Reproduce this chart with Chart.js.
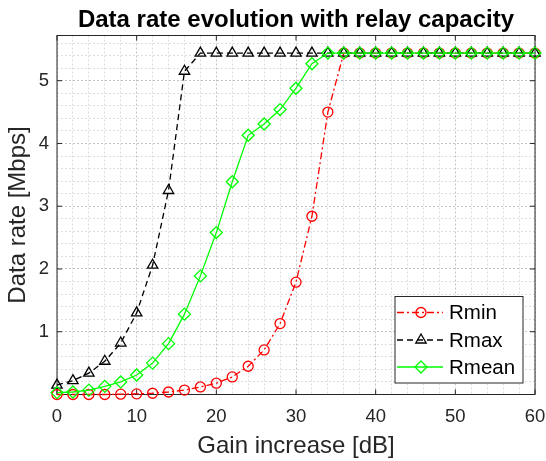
<!DOCTYPE html>
<html>
<head>
<meta charset="utf-8">
<script src="https://cdn.jsdelivr.net/npm/chart.js@4.4.0/dist/chart.umd.min.js"></script>
<style>
  html, body { margin: 0; padding: 0; background: #fff; }
</style>
</head>
<body>
<canvas id="chart" width="546" height="461"></canvas>
<script>
// gain steps [dB] and data rates [Mbps]
const gain = [0, 2, 4, 6, 8, 10, 12, 14, 16, 18, 20, 22, 24, 26, 28, 30,
              32, 34, 36, 38, 40, 42, 44, 46, 48, 50, 52, 54, 56, 58, 60];
const rmin = [0, 0, 0, 0, 0.005, 0.01, 0.02, 0.04, 0.07, 0.12, 0.18, 0.28, 0.45, 0.71, 1.13, 1.79,
              2.84, 4.50, 5.44, 5.44, 5.44, 5.44, 5.44, 5.44, 5.44, 5.44, 5.44, 5.44, 5.44, 5.44, 5.44];
const rmax = [0.15, 0.22, 0.34, 0.53, 0.82, 1.30, 2.06, 3.25, 5.15, 5.44, 5.44, 5.44, 5.44, 5.44, 5.44, 5.44,
              5.44, 5.44, 5.44, 5.44, 5.44, 5.44, 5.44, 5.44, 5.44, 5.44, 5.44, 5.44, 5.44, 5.44, 5.44];
const rmean = [0.03, 0.04, 0.07, 0.13, 0.20, 0.31, 0.50, 0.81, 1.28, 1.89, 2.58, 3.39, 4.13, 4.31, 4.54, 4.88,
               5.27, 5.44, 5.44, 5.44, 5.44, 5.44, 5.44, 5.44, 5.44, 5.44, 5.44, 5.44, 5.44, 5.44, 5.44];
const names = ["Rmin", "Rmax", "Rmean"];
const xMajor = [0, 10, 20, 30, 40, 50, 60];
const yMajor = [1, 2, 3, 4, 5];

const FONT = "'Liberation Sans', Arial, Helvetica, sans-serif";
const AXIS = "#262626";
Chart.defaults.font.family = FONT;
Chart.defaults.color = AXIS;

function pts(arr) {
  return gain.map((g, i) => ({ x: g, y: arr[i] }));
}

function marker(ctx, style, x, y, r) {
  ctx.beginPath();
  if (style === "circle") {
    ctx.arc(x, y, r, 0, Math.PI * 2);
  } else if (style === "triangle") {
    ctx.moveTo(x, y - r);
    ctx.lineTo(x + r * 0.866, y + r * 0.5);
    ctx.lineTo(x - r * 0.866, y + r * 0.5);
    ctx.closePath();
  } else {
    ctx.moveTo(x, y - r);
    ctx.lineTo(x + r, y);
    ctx.lineTo(x, y + r);
    ctx.lineTo(x - r, y);
    ctx.closePath();
  }
  ctx.stroke();
}

const isMajor = (v, step) => Math.abs(v / step - Math.round(v / step)) < 1e-6;

// box round the axes, with the ticks pointing inwards
const frame = {
  id: "frame",
  beforeDatasetsDraw(chart) {
    const { ctx, chartArea: a, scales } = chart;
    ctx.save();
    ctx.strokeStyle = AXIS;
    ctx.lineWidth = 1;
    ctx.strokeRect(a.left, a.top, a.right - a.left, a.bottom - a.top);
    ctx.beginPath();
    xMajor.forEach(v => {
      const px = scales.x.getPixelForValue(v);
      ctx.moveTo(px, a.bottom); ctx.lineTo(px, a.bottom - 5);
      ctx.moveTo(px, a.top); ctx.lineTo(px, a.top + 5);
    });
    yMajor.forEach(v => {
      const py = scales.y.getPixelForValue(v);
      ctx.moveTo(a.left, py); ctx.lineTo(a.left + 5, py);
      ctx.moveTo(a.right, py); ctx.lineTo(a.right - 5, py);
    });
    ctx.stroke();
    ctx.restore();
  },
  afterDraw(chart) {
    const { ctx, chartArea: a } = chart;
    const left = a.right - 140, right = a.right - 12;
    const top = a.bottom - 98, bottom = a.bottom - 11.5;
    ctx.save();
    ctx.fillStyle = "#fff";
    ctx.fillRect(left, top, right - left, bottom - top);
    ctx.strokeStyle = AXIS;
    ctx.lineWidth = 1;
    ctx.strokeRect(left, top, right - left, bottom - top);
    const rows = [16, 43.5, 70.5];
    chart.data.datasets.forEach((ds, i) => {
      const y = top + rows[i];
      ctx.strokeStyle = ds.borderColor;
      ctx.lineWidth = ds.borderWidth;
      ctx.setLineDash(ds.borderDash || []);
      ctx.beginPath();
      ctx.moveTo(left + 2, y);
      ctx.lineTo(left + 48, y);
      ctx.stroke();
      ctx.setLineDash([]);
      ctx.lineWidth = 1.3;
      marker(ctx, ds.pointStyle, left + 26, y, ds.pointRadius);
      ctx.fillStyle = "#000";
      ctx.font = "20.5px " + FONT;
      ctx.textBaseline = "middle";
      ctx.textAlign = "left";
      ctx.fillText(ds.label, left + 54, y + 1);
    });
    ctx.restore();
  }
};

const gridColor = step => c => isMajor(c.tick.value, step) ? "#c4c4c4" : "#dedede";

new Chart(document.getElementById("chart"), {
  type: "line",
  data: {
    datasets: [
      { label: names[0], data: pts(rmin), borderColor: "#ff0000", borderWidth: 1.3,
        borderDash: [7, 3, 2, 3], pointStyle: "circle", pointRadius: 5, order: 2 },
      { label: names[1], data: pts(rmax), borderColor: "#000000", borderWidth: 1.3,
        borderDash: [6, 4], pointStyle: "triangle", pointRadius: 6, order: 1 },
      { label: names[2], data: pts(rmean), borderColor: "#00ff00", borderWidth: 1.3,
        pointStyle: "rectRot", pointRadius: 6, order: 0 }
    ].map(ds => Object.assign(ds, {
      pointBorderColor: ds.borderColor, pointBackgroundColor: "rgba(0,0,0,0)",
      pointBorderWidth: 1.3, fill: false, tension: 0, clip: false
    }))
  },
  options: {
    responsive: false,
    animation: false,
    layout: { padding: { left: 0, right: 0, top: 0, bottom: 0 } },
    plugins: {
      legend: { display: false },
      tooltip: { enabled: false },
      title: {
        display: true,
        fullSize: false,
        text: "Data rate evolution with relay capacity",
        color: "#000",
        font: { size: 24, weight: "bold" },
        padding: { top: 5.5, bottom: 1.2 }
      }
    },
    scales: {
      x: {
        type: "linear", min: 0, max: 60,
        afterFit: s => { s.height = 66.5; s.paddingRight = 11; s.paddingLeft = 0; },
        grid: { color: gridColor(10), drawTicks: false, lineWidth: 1 },
        border: { display: false, dash: [2, 2] },
        ticks: {
          stepSize: 2, autoSkip: false, maxRotation: 0, padding: 11, color: AXIS,
          font: { size: 18.5 },
          callback: v => isMajor(v, 10) ? v : ""
        },
        title: { display: true, text: "Gain increase [dB]", color: AXIS,
                 font: { size: 24 }, padding: { top: 0, bottom: 0 } }
      },
      y: {
        type: "linear", min: 0, max: 5.72,
        afterFit: s => { s.width = 57; },
        grid: { color: gridColor(1), drawTicks: false, lineWidth: 1 },
        border: { display: false, dash: [2, 2] },
        ticks: {
          stepSize: 0.2, includeBounds: false, autoSkip: false, padding: 8, color: AXIS,
          font: { size: 18.5 },
          callback: v => (isMajor(v, 1) && v > 0) ? Math.round(v) : ""
        },
        title: { display: true, text: "Data rate [Mbps]", color: AXIS,
                 font: { size: 24 }, padding: { top: 3.6, bottom: 0 } }
      }
    }
  },
  plugins: [frame]
});
</script>
</body>
</html>
